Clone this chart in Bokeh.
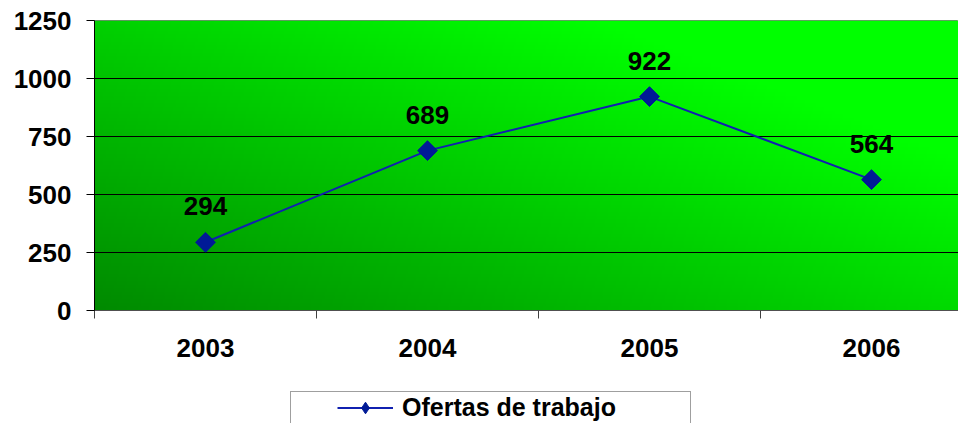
import numpy as np
from bokeh.plotting import figure
from bokeh.layouts import column
from bokeh.models import Range1d, FixedTicker, Legend, LegendItem
from bokeh.core.properties import value
from bokeh.embed import file_html
from bokeh.resources import INLINE

# ---- data ----
years = ["2003", "2004", "2005", "2006"]
ofertas = [294, 689, 922, 564]
y_ticks = [0, 250, 500, 750, 1000, 1250]
series_name = "Ofertas de trabajo"

FONT = "Liberation Sans"
LINE_COLOR = "#1020b0"
MARK_COLOR = "#001a96"
n = len(years)
xs = np.arange(n) + 0.5          # category centres
x_end = 864 / 222                # visible part of the 4-category axis

p = figure(width=958, height=391, output_backend="svg", toolbar_location=None,
           x_range=Range1d(0, x_end), y_range=Range1d(0, 1250),
           min_border_left=94, min_border_right=0, min_border_top=20,
           min_border_bottom=81,
           background_fill_color="white", border_fill_color="white")
p.outline_line_color = "#808080"

# ---- gradient plot-area background ----
H, W = 80, 320
uu = np.linspace(0, x_end, W) / n
vv = np.linspace(0, 1, H)
g = np.clip(138 + 83 * uu[None, :] + 70 * vv[:, None], 0, 255).astype(np.uint8)
img = np.zeros((H, W), dtype=np.uint32)
view = img.view(dtype=np.uint8).reshape((H, W, 4))
view[:, :, 0] = 0
view[:, :, 1] = g
view[:, :, 2] = 0
view[:, :, 3] = 255
p.image_rgba(image=[img], x=0, y=0, dw=x_end, dh=1250, level="image")

# ---- grid ----
p.xgrid.visible = False
p.ygrid.ticker = FixedTicker(ticks=y_ticks[1:-1])
p.ygrid.grid_line_color = "black"
p.ygrid.grid_line_width = 1

# ---- y axis ----
p.yaxis.ticker = FixedTicker(ticks=y_ticks)
p.yaxis.major_label_text_font = FONT
p.yaxis.major_label_text_font_style = "bold"
p.yaxis.major_label_text_font_size = "26px"
p.yaxis.major_label_text_color = "black"
p.yaxis.major_tick_out = 8
p.yaxis.major_tick_in = 0
p.yaxis.major_tick_line_color = "black"
p.yaxis.minor_tick_line_color = None
p.yaxis.axis_line_color = "black"
p.yaxis.major_label_standoff = 15

# ---- x axis ----
p.xaxis.ticker = FixedTicker(ticks=list(xs), minor_ticks=list(range(n + 1)))
p.xaxis.major_label_overrides = {float(x): y for x, y in zip(xs, years)}
p.xaxis.major_label_text_font = FONT
p.xaxis.major_label_text_font_style = "bold"
p.xaxis.major_label_text_font_size = "26px"
p.xaxis.major_label_text_color = "black"
p.xaxis.major_tick_out = 0
p.xaxis.major_tick_in = 0
p.xaxis.minor_tick_out = 8
p.xaxis.minor_tick_in = 0
p.xaxis.minor_tick_line_color = "#404040"
p.xaxis.axis_line_color = "#505050"
p.xaxis.major_label_standoff = 20

# ---- series ----
p.line(xs, ofertas, line_color=LINE_COLOR, line_width=2)
p.scatter(xs, ofertas, marker="square", size=14, angle=np.pi / 4,
          fill_color=MARK_COLOR, line_color=MARK_COLOR)
p.text(xs, ofertas, text=[str(v) for v in ofertas],
       text_font=value(FONT), text_font_style="bold", text_font_size="26px",
       text_align="center", text_baseline="middle", y_offset=-36,
       text_color="black")

# ---- legend strip (legend box runs off the bottom, as in the reference) ----
lg = figure(width=958, height=32, output_backend="svg", toolbar_location=None,
            x_range=Range1d(0, 1), y_range=Range1d(0, 1),
            x_axis_location=None, y_axis_location=None,
            min_border_left=94, min_border_right=0, min_border_top=0,
            min_border_bottom=0,
            background_fill_color="white", border_fill_color="white")
lg.outline_line_color = None
lg.xgrid.visible = False
lg.ygrid.visible = False
# legend-only renderers (their points lie outside the visible range)
lr = lg.line(x=[5, 6], y=[5, 5], line_color=LINE_COLOR, line_width=2)
sr = lg.scatter(x=[5], y=[5], marker="diamond",
                fill_color=MARK_COLOR, line_color=MARK_COLOR)
legend = Legend(items=[LegendItem(label=series_name, renderers=[lr, sr])],
                location=(196, -1), padding=1, margin=0, spacing=0,
                glyph_width=56, glyph_height=29, label_standoff=9,
                label_width=287,
                label_text_font=FONT, label_text_font_style="bold",
                label_text_font_size="25px", label_text_color="black",
                border_line_color="#404040", border_line_width=1,
                background_fill_color="white", background_fill_alpha=1,
                title=" ", title_location="left",
                title_text_font_size="25px", title_standoff=16)
lg.add_layout(legend, "center")

layout = column(p, lg, spacing=0)
open("out.html", "w").write(file_html(layout, INLINE))
